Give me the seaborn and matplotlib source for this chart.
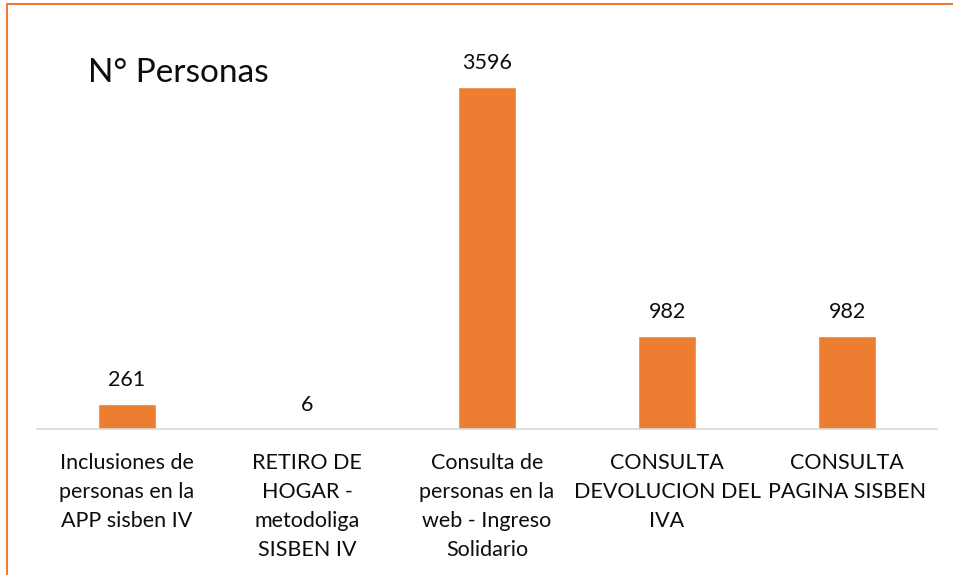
import pandas as pd
import seaborn as sns
import matplotlib.pyplot as plt
from matplotlib.lines import Line2D

# =========================
# Data
# =========================
categorias = [
    "Inclusiones de\npersonas en la\nAPP sisben IV",
    "RETIRO DE\nHOGAR -\nmetodoliga\nSISBEN IV",
    "Consulta de\npersonas en la\nweb - Ingreso\nSolidario",
    "CONSULTA\nDEVOLUCION DEL\nIVA",
    "CONSULTA\nPAGINA SISBEN",
]
personas = [261, 6, 3596, 982, 982]

df = pd.DataFrame({"categoria": categorias, "personas": personas})

sns.set_theme(style="white")
plt.rcParams["font.family"] = ["Lato", "DejaVu Sans"]

naranja = "#ED7D31"

fig = plt.figure(figsize=(9.54, 5.75), dpi=100)
ax = fig.add_axes([37 / 954, 146 / 575, 900 / 954, 380 / 575])

sns.barplot(data=df, x="categoria", y="personas", color=naranja,
            width=0.317, saturation=1, ax=ax)

ax.set_ylim(0, 4000)
ax.set_xlim(-0.5, len(categorias) - 0.5)
ax.bar_label(ax.containers[0], padding=10, fontsize=15.5, color="#0d0d0d")

ax.set_xlabel("")
ax.set_ylabel("")
ax.set_yticks([])
for s in ["top", "right", "left"]:
    ax.spines[s].set_visible(False)
ax.spines["bottom"].set_color("#D9D9D9")
ax.spines["bottom"].set_linewidth(1.2)
ax.tick_params(axis="x", length=0, pad=17)
for lbl in ax.get_xticklabels():
    lbl.set_fontsize(15.5)
    lbl.set_color("#0d0d0d")
    lbl.set_linespacing(1.57)

# Title inside the chart area
fig.text(88 / 954, 1 - 73 / 575, "N° Personas", fontsize=24, color="#0d0d0d",
         ha="left", va="center")

# Orange frame (left and top edges)
fig.add_artist(Line2D([7 / 954, 7 / 954], [0, 1 - 4 / 575], color=naranja,
                      linewidth=1.5, transform=fig.transFigure))
fig.add_artist(Line2D([7 / 954, 1], [1 - 4 / 575, 1 - 4 / 575], color=naranja,
                      linewidth=1.5, transform=fig.transFigure))

plt.savefig("out.png", dpi=100)
